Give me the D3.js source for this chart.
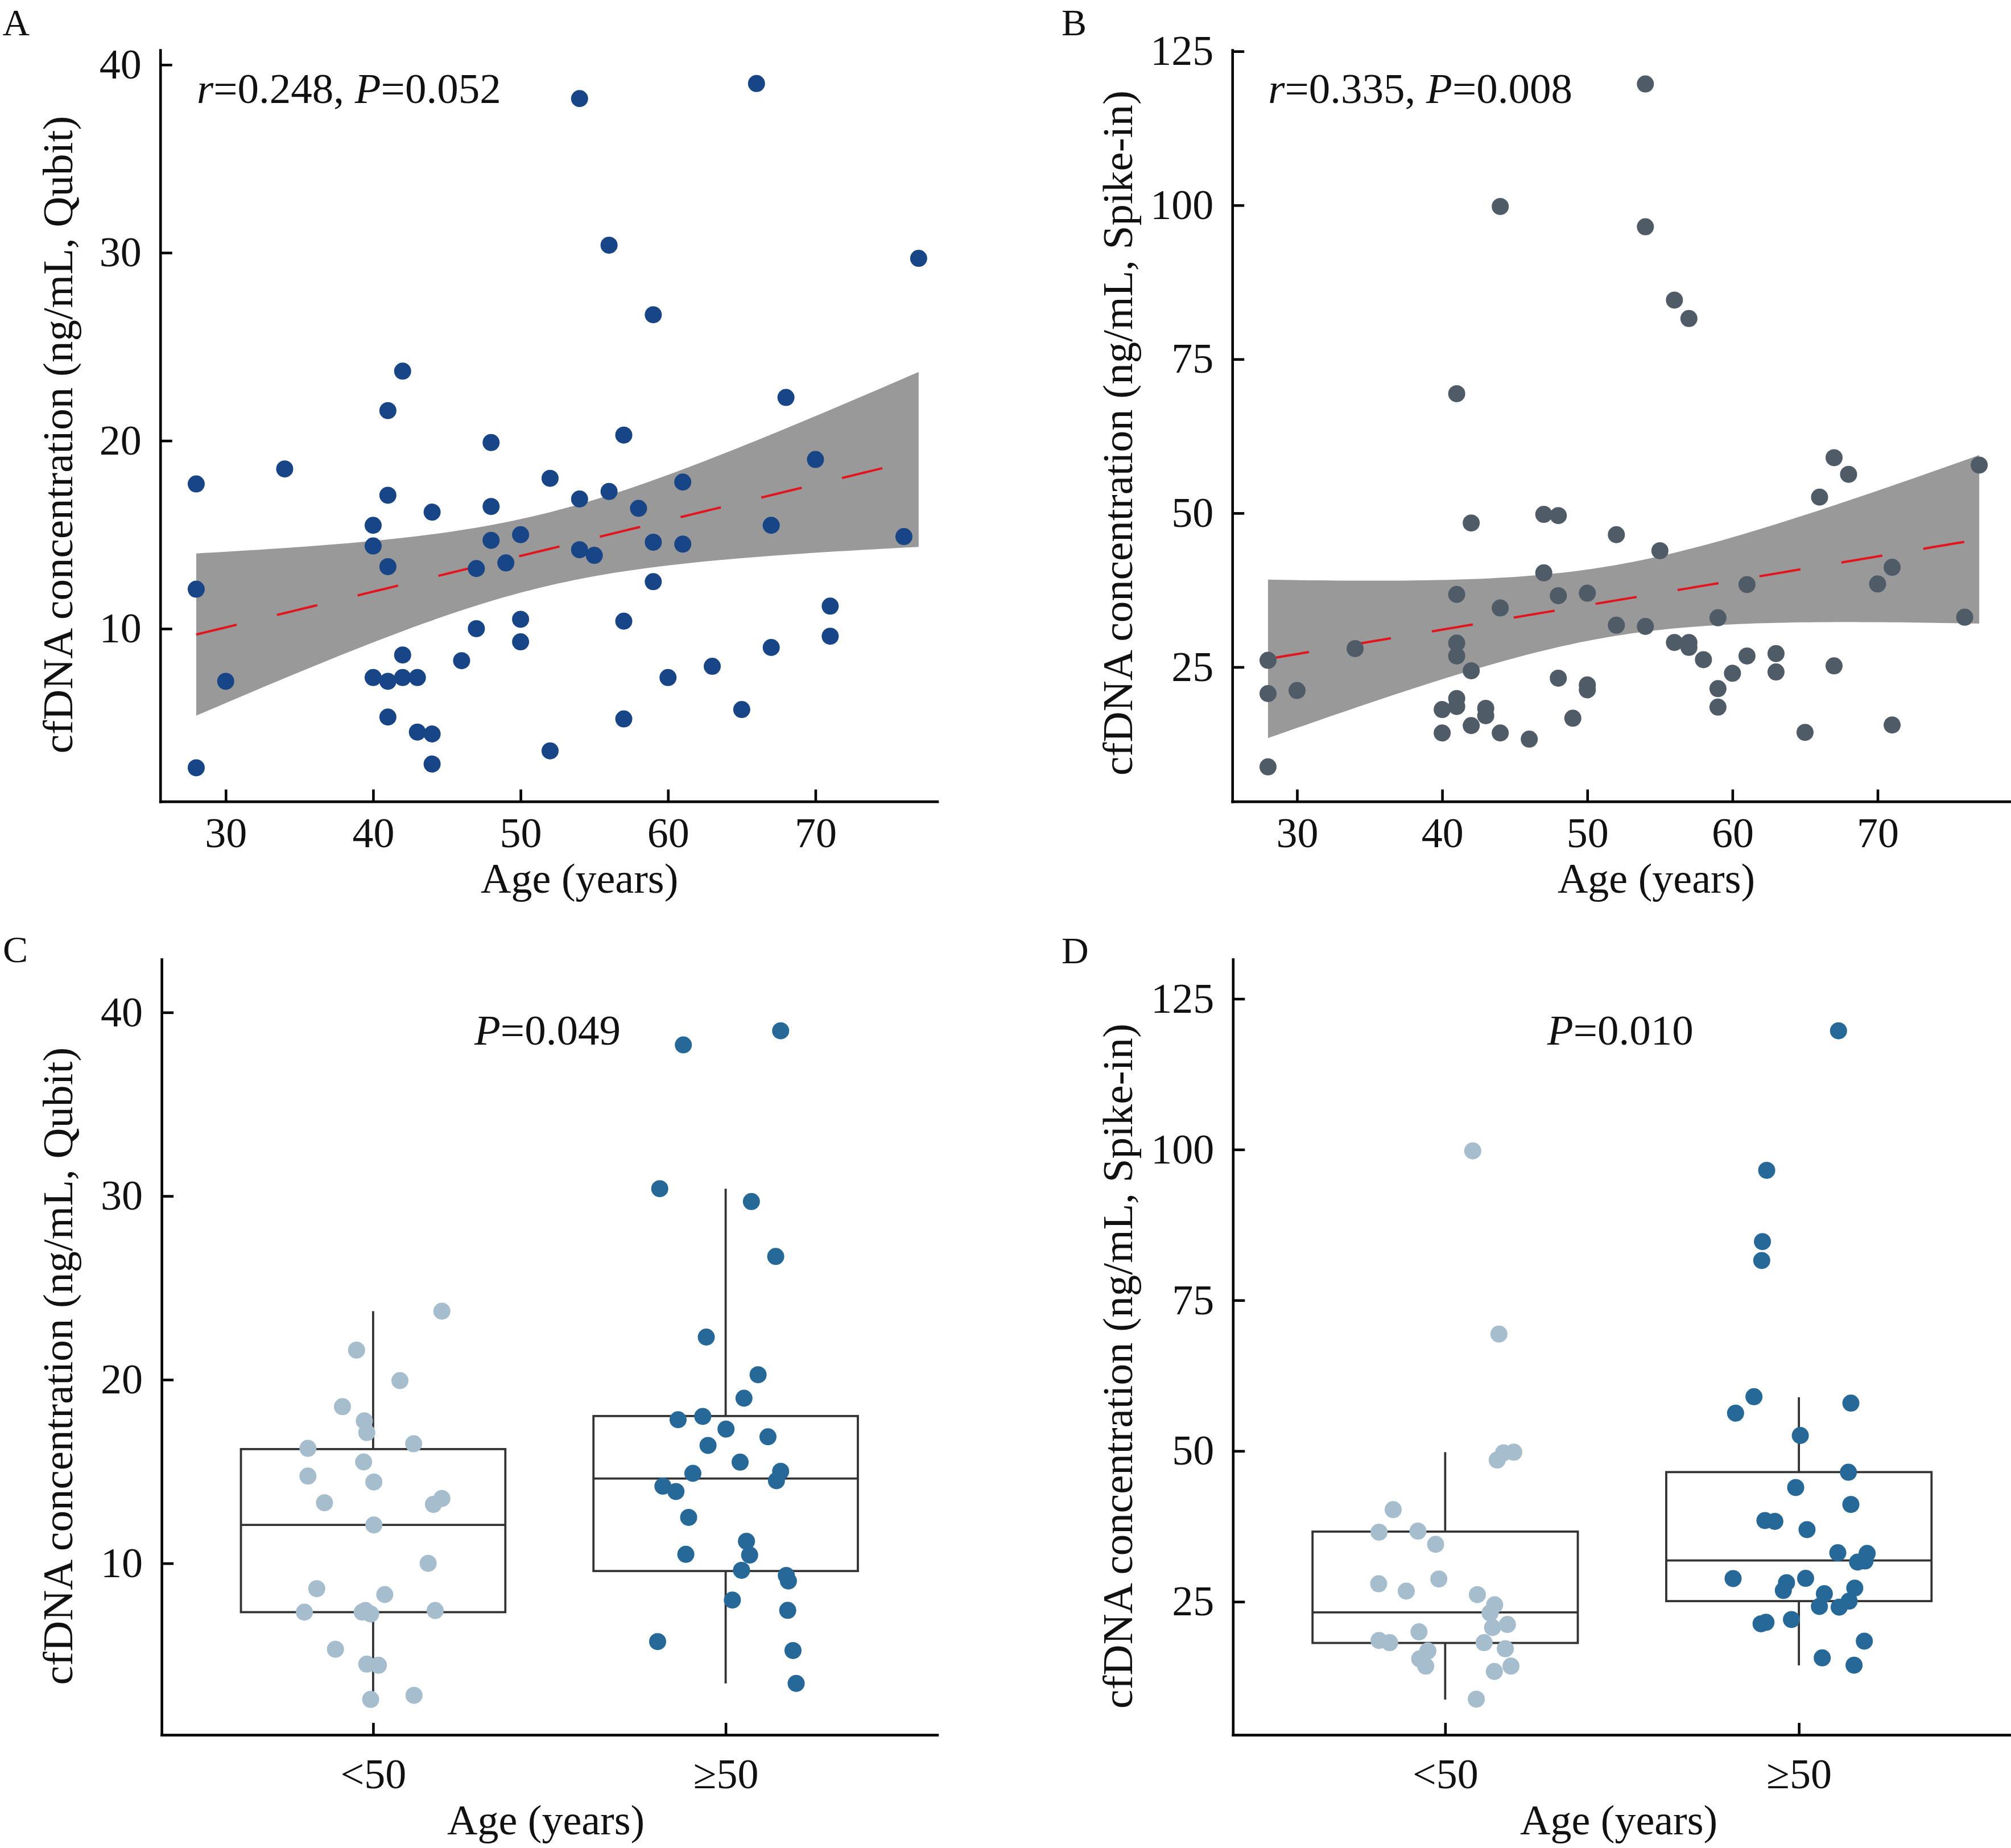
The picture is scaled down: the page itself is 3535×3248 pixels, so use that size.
<!DOCTYPE html>
<html><head><meta charset="utf-8">
<script src="https://cdn.jsdelivr.net/npm/d3@7"></script>
<style>html,body{margin:0;padding:0;background:#fff;} svg{display:block;}</style>
</head><body><svg id="chart" width="3535" height="3248"></svg>
<script>
// ---------------- data ----------------
const agesA = [28,28,28,30,34,40,40,40,41,41,41,41,41,42,42,42,43,43,44,44,44,46,47,47,48,48,48,49,50,50,50,52,52,54,54,54,55,56,56,57,57,57,58,59,59,59,60,61,61,63,65,66,67,67,68,70,71,71,76,77];
const concA = [17.7,12.1,2.6,7.2,18.5,15.5,14.4,7.4,21.6,17.1,13.3,7.2,5.3,23.7,8.6,7.4,7.4,4.5,16.2,4.4,2.8,8.3,13.2,10.0,19.9,16.5,14.7,13.5,15.0,10.5,9.3,18.0,3.5,38.2,16.9,14.2,13.9,30.4,17.3,20.3,10.4,5.2,16.4,26.7,14.6,12.5,7.4,17.8,14.5,8.0,5.7,39.0,15.5,9.0,22.3,19.0,11.2,9.6,14.9,29.7];

const agesB = [28,28,28,30,34,40,40,41,41,41,41,41,41,42,42,42,43,43,44,44,44,46,47,47,48,48,48,49,50,50,50,52,52,54,54,54,55,56,56,57,57,57,58,59,59,59,60,61,61,63,63,65,66,67,67,68,70,71,71,76,77];
const concB = [26.1,20.7,8.8,21.2,28.0,18.1,14.3,69.4,36.8,28.9,26.8,19.9,18.6,48.4,24.4,15.5,18.3,17.1,99.8,34.6,14.3,13.3,49.8,40.3,49.6,36.6,23.2,16.7,37.0,22.1,21.3,46.5,31.8,119.7,96.5,31.6,43.9,84.6,29.0,81.6,29.0,28.2,26.2,33.0,21.5,18.5,24.0,38.4,26.8,27.2,24.2,14.4,52.6,59.0,25.2,56.3,38.5,41.2,15.6,33.1,57.8];

const groups = ["<50", "\u226550"];

// panel C: values and horizontal jitter (in category units) of each point
const cLowVals   = [23.73,21.61,19.95,18.53,17.76,17.12,16.51,16.26,15.52,14.75,14.43,13.30,13.21,13.53,12.09,10.0,8.62,8.30,7.34,7.34,7.24,7.43,7.43,5.32,4.51,4.45,2.81,2.59];
const cLowJitter = [0.195,-0.047,0.076,-0.087,-0.025,-0.018,0.115,-0.185,-0.027,-0.185,0.002,-0.138,0.171,0.195,0.002,0.156,-0.160,0.033,-0.195,-0.031,-0.007,0.176,-0.022,-0.107,-0.018,0.015,0.116,-0.007];
const cHighVals   = [39.0,38.23,30.40,29.70,26.71,22.32,20.27,18.99,18.0,17.82,17.31,16.89,16.42,15.51,15.01,14.9,14.5,14.2,13.91,12.5,11.2,10.49,10.45,9.62,9.34,9.04,8.0,7.44,5.74,5.25,3.46];
const cHighJitter = [0.156,-0.120,-0.187,0.073,0.142,-0.055,0.092,0.052,-0.065,-0.135,0.001,0.120,-0.050,0.041,0.156,-0.093,0.144,-0.178,-0.141,-0.105,0.059,-0.113,0.068,0.045,0.172,0.178,0.019,0.176,-0.193,0.191,0.200];

// panel D
const dLowVals   = [99.78,69.4,48.5,49.7,49.8,40.27,36.53,36.71,34.52,27.98,26.76,28.77,26.18,24.49,23.13,20.72,21.23,20.0,18.57,18.21,18.21,17.2,16.84,15.52,14.32,13.43,14.32,8.83];
const dLowJitter = [0.078,0.152,0.147,0.165,0.194,-0.147,-0.187,-0.077,-0.027,-0.188,-0.110,-0.018,0.091,0.140,0.127,0.134,0.176,-0.074,-0.187,-0.157,0.110,0.170,-0.049,-0.072,-0.055,0.139,0.186,0.088];
const dHighVals   = [119.7,96.55,84.73,81.6,59.0,57.94,56.28,52.57,46.48,43.94,41.13,38.47,38.33,36.96,33.12,33.01,31.75,31.57,28.84,28.88,28.16,26.87,27.26,26.33,25.1,24.21,24.1,21.34,21.58,22.05,18.46,15.69,14.47];
const dHighJitter = [0.112,-0.091,-0.103,-0.105,-0.127,0.147,-0.179,0.004,0.140,-0.009,0.147,-0.096,-0.068,0.023,0.110,0.193,0.187,0.166,-0.186,0.019,-0.035,-0.044,0.158,0.072,0.142,0.058,0.114,-0.107,-0.093,-0.021,0.185,0.066,0.156];

// box statistics (lower whisker, Q1, median, Q3, upper whisker) per group
const cLo = [2.59, 3.46], cQ1 = [7.34, 9.58], cMed = [12.09, 14.62], cQ3 = [16.22, 18.02], cHi = [23.73, 30.40];
const dLo = [8.77, 14.44], dQ1 = [18.16, 25.10], dMed = [23.24, 31.84], dQ3 = [36.63, 46.50], dHi = [49.80, 58.92];

const ageTicks = [30, 40, 50, 60, 70];
const qubitTicks = [10, 20, 30, 40];
const spikeTicks = [25, 50, 75, 100, 125];

// ---------------- style ----------------
const FONT = "'Liberation Serif','Times New Roman',Times,serif";
const FS = 74;
const AXW = 4.6;
const colA = "#174585", colB = "#4f5b66", colLight = "#a6bdcd", colDark = "#266898";
const bandCol = "#999999", lineCol = "#e3141d", boxCol = "#333333";
const R = 15;

const svg = d3.select("#chart");
svg.append("rect").attr("width", 3535).attr("height", 3248).attr("fill", "#fff");

function styleAxis(g) {
  g.selectAll("path.domain").attr("stroke", "#000").attr("stroke-width", AXW).attr("stroke-linecap", "square");
  g.selectAll(".tick line").attr("stroke", "#000").attr("stroke-width", AXW);
  g.selectAll(".tick text").attr("font-family", FONT).attr("font-size", FS).attr("fill", "#111");
}

function drawAxes(p, x, y, xTicks, yTicks, xFmt, xPad) {
  const gx = svg.append("g").attr("transform", `translate(0,${y.range()[0]})`)
    .call(d3.axisBottom(x).tickValues(xTicks).tickFormat(xFmt).tickSizeInner(-21).tickSizeOuter(0).tickPadding(xPad));
  styleAxis(gx);
  const gy = svg.append("g").attr("transform", `translate(${x.range()[0]},0)`)
    .call(d3.axisLeft(y).tickValues(yTicks).tickFormat(d3.format("d")).tickSizeInner(-21).tickSizeOuter(0).tickPadding(33));
  styleAxis(gy);
  // titles
  svg.append("text").attr("x", p.xt[0]).attr("y", p.xt[1]).attr("text-anchor", "middle")
    .attr("font-family", FONT).attr("font-size", FS).attr("fill", "#111").text("Age (years)");
  svg.append("text").attr("transform", `translate(${p.yt[0]},${p.yt[1]}) rotate(-90)`).attr("text-anchor", "middle")
    .attr("font-family", FONT).attr("font-size", FS + 1).attr("fill", "#111").text(p.ytitle);
  svg.append("text").attr("x", p.lab[0]).attr("y", p.lab[1])
    .attr("font-family", FONT).attr("font-size", 66).attr("fill", "#111").text(p.label);
}

function annotate(pos, parts) {
  const t = svg.append("text").attr("x", pos[0]).attr("y", pos[1])
    .attr("font-family", FONT).attr("font-size", 75).attr("fill", "#111");
  parts.forEach(([s, it]) => t.append("tspan").attr("font-style", it ? "italic" : "normal").text(s));
}

function tQuant(df) {
  const z = 1.959964;
  return z + (z ** 3 + z) / (4 * df) + (5 * z ** 5 + 16 * z ** 3 + 3 * z) / (96 * df * df);
}

function scatterPanel(p, ages, conc, col) {
  const x = d3.scaleLinear().domain(p.xd).range(p.xr);
  const y = d3.scaleLinear().domain(p.yd).range(p.yr);
  // linear fit with 95% confidence band computed from the data
  const n = ages.length;
  const mx = d3.mean(ages), my = d3.mean(conc);
  let sxx = 0, sxy = 0;
  for (let i = 0; i < n; i++) { sxx += (ages[i] - mx) ** 2; sxy += (ages[i] - mx) * (conc[i] - my); }
  const b = sxy / sxx, a = my - b * mx;
  let sse = 0;
  for (let i = 0; i < n; i++) sse += (conc[i] - (a + b * ages[i])) ** 2;
  const s = Math.sqrt(sse / (n - 2)), t = tQuant(n - 2);
  const [x0, x1] = d3.extent(ages);
  const grid = d3.range(0, 81).map(k => x0 + (x1 - x0) * k / 80);
  const band = grid.map(g => {
    const f = a + b * g, se = s * Math.sqrt(1 / n + (g - mx) ** 2 / sxx);
    return { g, lo: f - t * se, hi: f + t * se, f };
  });
  svg.append("path").datum(band).attr("fill", bandCol)
    .attr("d", d3.area().x(d => x(d.g)).y0(d => y(d.lo)).y1(d => y(d.hi)));
  svg.append("path").datum(band).attr("fill", "none").attr("stroke", lineCol).attr("stroke-width", 4)
    .attr("stroke-dasharray", "73,73").attr("d", d3.line().x(d => x(d.g)).y(d => y(d.f)));
  svg.append("g").selectAll("circle").data(ages).join("circle")
    .attr("cx", (d) => x(d)).attr("cy", (d, i) => y(conc[i])).attr("r", R).attr("fill", col);
  drawAxes(p, x, y, ageTicks, p.yticks, d3.format("d"), 28);
}

function boxPanel(p, lowV, lowJ, highV, highJ, lo, q1, med, q3, hi) {
  const x = d3.scaleLinear().domain([0.4, 2.6]).range(p.xr);
  const y = d3.scaleLinear().domain(p.yd).range(p.yr);
  const g = svg.append("g");
  const hw = 0.375;
  [1, 2].forEach((c, i) => {
    g.append("line").attr("x1", x(c)).attr("x2", x(c)).attr("y1", y(q3[i])).attr("y2", y(hi[i]))
      .attr("stroke", boxCol).attr("stroke-width", 3.8);
    g.append("line").attr("x1", x(c)).attr("x2", x(c)).attr("y1", y(q1[i])).attr("y2", y(lo[i]))
      .attr("stroke", boxCol).attr("stroke-width", 3.8);
    g.append("rect").attr("x", x(c - hw)).attr("width", x(c + hw) - x(c - hw))
      .attr("y", y(q3[i])).attr("height", y(q1[i]) - y(q3[i]))
      .attr("fill", "none").attr("stroke", boxCol).attr("stroke-width", 3.8);
    g.append("line").attr("x1", x(c - hw)).attr("x2", x(c + hw)).attr("y1", y(med[i])).attr("y2", y(med[i]))
      .attr("stroke", boxCol).attr("stroke-width", 3.8);
  });
  g.append("g").selectAll("circle").data(lowV).join("circle")
    .attr("cx", (d, i) => x(1 + lowJ[i])).attr("cy", d => y(d)).attr("r", R).attr("fill", colLight);
  g.append("g").selectAll("circle").data(highV).join("circle")
    .attr("cx", (d, i) => x(2 + highJ[i])).attr("cy", d => y(d)).attr("r", R).attr("fill", colDark);
  drawAxes(p, x, y, [1, 2], p.yticks, d => groups[d - 1], 41);
}

// ---------------- panels ----------------
scatterPanel({ xd: [25.56, 78.26], xr: [281.7, 1647.5], yd: [0.81, 40.78], yr: [1408.6, 88], yticks: qubitTicks,
  xt: [1018.7, 1569], yt: [127, 764], ytitle: "cfDNA concentration (ng/mL, Qubit)", lab: [4.6, 61.7], label: "A" },
  agesA, concA, colA);
annotate([346, 181], [["r", true], ["=0.248, ", false], ["P", true], ["=0.052", false]]);

scatterPanel({ xd: [25.54, 79.19], xr: [2166.2, 3535], yd: [3.18, 125.2], yr: [1408.6, 88], yticks: spikeTicks,
  xt: [2911.5, 1569], yt: [1990, 761], ytitle: "cfDNA concentration (ng/mL, Spike-in)", lab: [1866, 62], label: "B" },
  agesB, concB, colB);
annotate([2229.3, 181], [["r", true], ["=0.335, ", false], ["P", true], ["=0.008", false]]);

boxPanel({ xr: [284.1, 1647.4], yd: [0.66, 42.89], yr: [3049.1, 1686.1], yticks: qubitTicks,
  xt: [959.6, 3224], yt: [127, 2401], ytitle: "cfDNA concentration (ng/mL, Qubit)", lab: [5, 1691.3], label: "C" },
  cLowVals, cLowJitter, cHighVals, cHighJitter, cLo, cQ1, cMed, cQ3, cHi);
annotate([834, 1836.3], [["P", true], ["=0.049", false]]);

boxPanel({ xr: [2167.3, 3535.2], yd: [2.92, 131.55], yr: [3049.1, 1686.1], yticks: spikeTicks,
  xt: [2845.6, 3224], yt: [1990, 2401], ytitle: "cfDNA concentration (ng/mL, Spike-in)", lab: [1866, 1693], label: "D" },
  dLowVals, dLowJitter, dHighVals, dHighJitter, dLo, dQ1, dMed, dQ3, dHi);
annotate([2719.8, 1836.3], [["P", true], ["=0.010", false]]);
</script>
</body></html>
